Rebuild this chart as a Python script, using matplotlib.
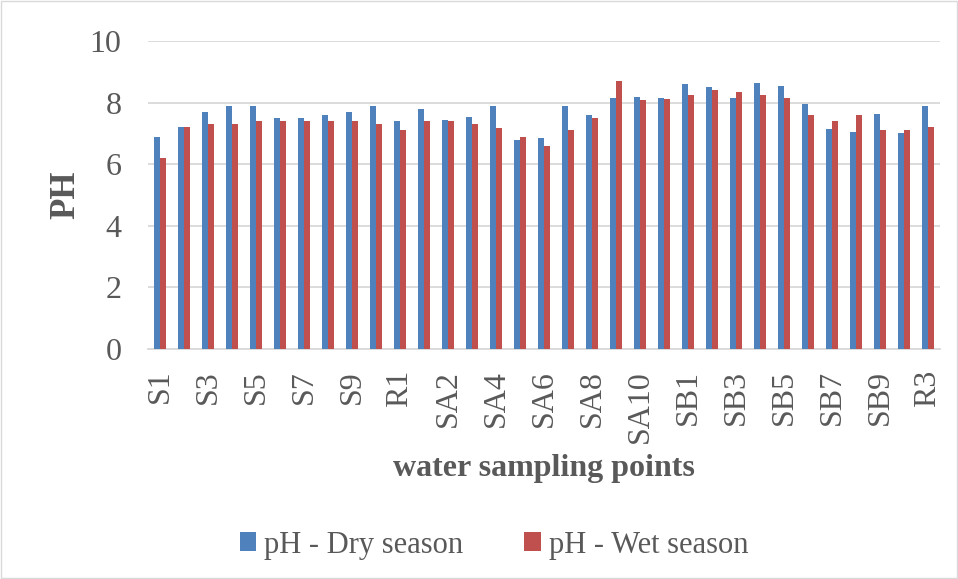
import numpy as np
import matplotlib.pyplot as plt
from matplotlib.patches import Rectangle

# sampling points: S1-S10, R1, SA1-SA10, R2, SB1-SB10, R3
points = (["S%d" % i for i in range(1, 11)] + ["R1"]
          + ["SA%d" % i for i in range(1, 11)] + ["R2"]
          + ["SB%d" % i for i in range(1, 11)] + ["R3"])

ph_dry = [6.88, 7.20, 7.70, 7.89, 7.89, 7.49, 7.49, 7.60, 7.70, 7.89,
          7.39,
          7.79, 7.44, 7.52, 7.89, 6.79, 6.85, 7.89, 7.60, 8.15, 8.17,
          8.15,
          8.59, 8.50, 8.14, 8.64, 8.55, 7.94, 7.13, 7.06, 7.62, 7.00,
          7.89]
ph_wet = [6.20, 7.20, 7.29, 7.29, 7.39, 7.39, 7.39, 7.39, 7.39, 7.29,
          7.10,
          7.39, 7.39, 7.29, 7.19, 6.88, 6.59, 7.10, 7.49, 8.69, 8.10,
          8.12,
          8.24, 8.40, 8.34, 8.24, 8.15, 7.60, 7.39, 7.60, 7.11, 7.10,
          7.20]

plt.rcParams['font.family'] = ['Liberation Serif', 'DejaVu Serif']
grey = '#595959'

fig = plt.figure(figsize=(9.58, 5.79), dpi=100)
ax = fig.add_axes([148 / 958, 1 - 349 / 579, 792 / 958, 308 / 579])

x = np.arange(len(points))
w = 0.23
ax.bar(x - 0.135, ph_dry, width=w, color='#4F81BD', label='pH - Dry season', zorder=3)
ax.bar(x + 0.135, ph_wet, width=w, color='#C0504D', label='pH - Wet season', zorder=3)

ax.set_xlim(-0.5, len(points) - 0.5)
ax.set_ylim(0, 10)
ax.set_yticks(range(0, 11, 2))
ax.set_xticks(x[::2])
ax.set_xticklabels(points[::2], rotation=90)
ax.tick_params(axis='both', length=0, labelsize=23, colors=grey)
ax.tick_params(axis='y', pad=19)
ax.tick_params(axis='x', pad=15)
ax.grid(axis='y', color='#D9D9D9', linewidth=1.3, zorder=0)
for s in ['top', 'right', 'left']:
    ax.spines[s].set_visible(False)
ax.spines['bottom'].set_color('#D9D9D9')
ax.spines['bottom'].set_linewidth(1.3)

ax.set_ylabel('PH', fontsize=25, fontweight='bold', color=grey, labelpad=5)
ax.set_xlabel('water sampling points', fontsize=23, fontweight='bold', color=grey, labelpad=8)

fig.legend(loc='center', bbox_to_anchor=(494 / 958, 1 - 545 / 579), ncol=2, frameon=False,
           fontsize=22, handlelength=0.55, handleheight=0.55, handletextpad=0.25,
           columnspacing=2.0, labelcolor=grey)

fig.patches.append(Rectangle((0.001, 0.001), 0.998, 0.997, transform=fig.transFigure,
                             fill=False, edgecolor='#D9D9D9', linewidth=1))

fig.savefig('out.png', dpi=100)
